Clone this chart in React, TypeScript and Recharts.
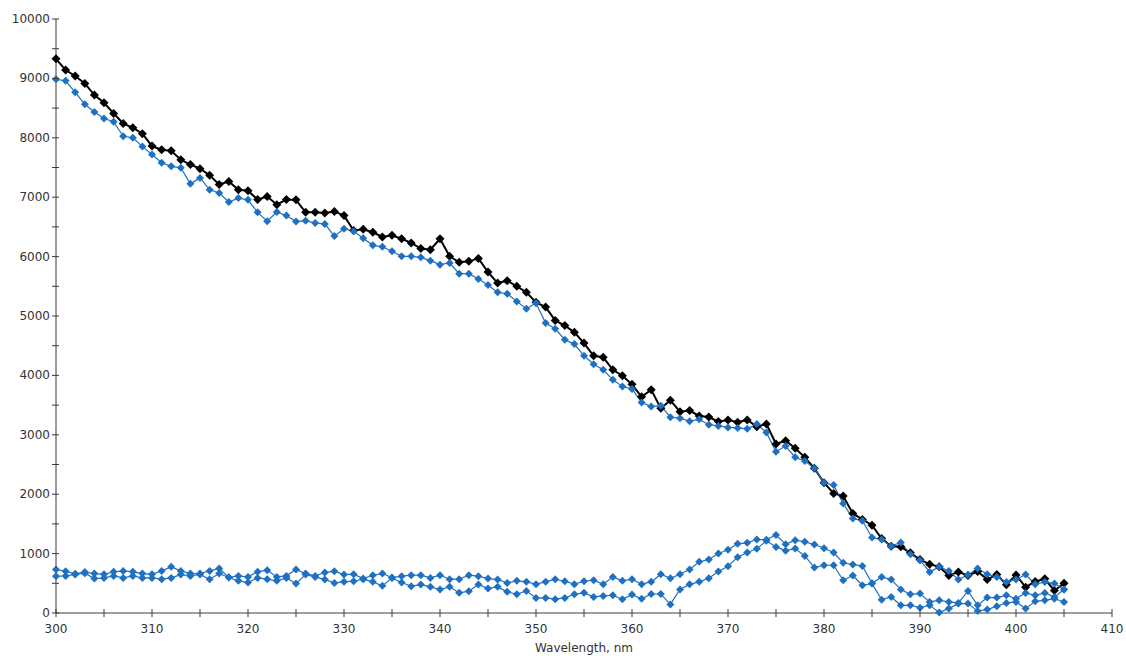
import { LineChart, Line, XAxis, YAxis } from 'recharts'

const wavelengths = [
  300, 301, 302, 303, 304, 305, 306, 307, 308, 309, 310, 311, 312, 313, 314, 315, 316, 317, 318, 319,
  320, 321, 322, 323, 324, 325, 326, 327, 328, 329, 330, 331, 332, 333, 334, 335, 336, 337, 338, 339,
  340, 341, 342, 343, 344, 345, 346, 347, 348, 349, 350, 351, 352, 353, 354, 355, 356, 357, 358, 359,
  360, 361, 362, 363, 364, 365, 366, 367, 368, 369, 370, 371, 372, 373, 374, 375, 376, 377, 378, 379,
  380, 381, 382, 383, 384, 385, 386, 387, 388, 389, 390, 391, 392, 393, 394, 395, 396, 397, 398, 399,
  400, 401, 402, 403, 404, 405,
]

// black trace
const sample = [
  9330, 9140, 9040, 8915, 8720, 8590, 8410, 8240, 8170, 8070, 7860, 7800, 7780, 7630, 7550, 7480, 7370, 7215, 7265, 7125,
  7110, 6960, 7010, 6875, 6960, 6955, 6745, 6745, 6735, 6760, 6690, 6440, 6460, 6410, 6330, 6360, 6300, 6230, 6135, 6115,
  6300, 6005, 5905, 5920, 5970, 5740, 5555, 5595, 5500, 5400, 5230, 5150, 4925, 4840, 4725, 4545, 4330, 4305, 4095, 3995,
  3850, 3640, 3760, 3445, 3580, 3390, 3408, 3318, 3300, 3222, 3250, 3210, 3250, 3137, 3182, 2845, 2901, 2772, 2620, 2435,
  2193, 2013, 1968, 1676, 1575, 1479, 1254, 1125, 1114, 1013, 900, 822, 777, 630, 692, 630, 700, 563, 650, 475,
  640, 435, 530, 575, 378, 500,
]

// blue traces
const reference = [
  8985, 8960, 8765, 8565, 8435, 8325, 8270, 8025, 8000, 7855, 7720, 7580, 7520, 7495, 7225, 7325, 7125, 7070, 6920, 6985,
  6955, 6745, 6595, 6750, 6690, 6590, 6605, 6565, 6550, 6345, 6470, 6425, 6310, 6190, 6165, 6089, 6005, 6005, 5988, 5932,
  5864, 5892, 5712, 5712, 5622, 5521, 5398, 5375, 5246, 5122, 5218, 4881, 4785, 4600, 4527, 4330, 4189, 4094, 3925, 3813,
  3773, 3545, 3475, 3490, 3296, 3279, 3230, 3260, 3170, 3150, 3125, 3115, 3100, 3180, 3040, 2716, 2811, 2620, 2558, 2435,
  2193, 2153, 1845, 1592, 1552, 1271, 1238, 1125, 1187, 990, 889, 692, 777, 709, 563, 640, 748, 653, 608, 523,
  563, 647, 484, 523, 495, 394,
]

const blankA = [
  732, 704, 660, 690, 664, 653, 693, 709, 693, 664, 653, 709, 777, 709, 664, 665, 709, 749, 600, 625,
  608, 693, 720, 608, 625, 732, 664, 625, 681, 704, 647, 653, 580, 636, 664, 597, 620, 636, 636, 591,
  636, 569, 569, 636, 620, 580, 563, 507, 541, 524, 485, 524, 569, 535, 485, 535, 552, 485, 608, 541,
  569, 485, 524, 653, 585, 653, 732, 861, 900, 1002, 1065, 1165, 1181, 1237, 1235, 1315, 1158, 1226, 1198, 1153,
  1090, 1018, 844, 816, 790, 500, 608, 563, 394, 315, 327, 186, 214, 186, 169, 372, 130, 259, 259, 298,
  242, 338, 298, 338, 270, 394,
]

const blankB = [
  620, 625, 650, 670, 580, 591, 625, 591, 625, 591, 591, 569, 591, 647, 625, 650, 569, 664, 597, 541,
  513, 591, 569, 541, 591, 496, 647, 608, 563, 507, 524, 535, 569, 524, 457, 591, 513, 451, 479, 440,
  395, 440, 339, 367, 479, 412, 440, 356, 316, 372, 254, 254, 232, 254, 316, 339, 271, 288, 299, 232,
  310, 240, 320, 320, 145, 395, 482, 524, 585, 698, 788, 940, 1018, 1080, 1215, 1113, 1050, 1085, 960, 765,
  804, 804, 551, 630, 467, 495, 225, 270, 130, 130, 90, 130, 10, 74, 158, 158, 34, 57, 113, 169,
  186, 74, 197, 214, 242, 186,
]

const xTicks = [300, 305, 310, 315, 320, 325, 330, 335, 340, 345, 350, 355, 360, 365, 370, 375, 380, 385, 390, 395, 400, 405, 410]
const yTicks = [0, 500, 1000, 1500, 2000, 2500, 3000, 3500, 4000, 4500, 5000, 5500, 6000, 6500, 7000, 7500, 8000, 8500, 9000, 9500, 10000]

const data = wavelengths.map((w, i) => ({
  w,
  sample: sample[i],
  reference: reference[i],
  blankA: blankA[i],
  blankB: blankB[i],
}))

const AXIS = '#3a3a3a'
const BLUE = '#1f70c1'
const FONT = '"DejaVu Sans", Verdana, sans-serif'

function diamond(color: string, r: number) {
  return (props: any) => {
    const { cx, cy, index } = props
    if (cx == null || cy == null) return <g key={index} />
    return (
      <path
        key={index}
        d={`M${cx},${cy - r}L${cx + r},${cy}L${cx},${cy + r}L${cx - r},${cy}Z`}
        fill={color}
      />
    )
  }
}

function XTick(props: any) {
  const { x, y, payload } = props
  const v = payload.value
  return (
    <g>
      <line x1={x} x2={x} y1={y - 4} y2={y + 4} stroke={AXIS} />
      {v % 10 === 0 && (
        <text x={x} y={y + 20} textAnchor="middle" fill="#333" fontSize={12} fontFamily={FONT}>
          {v}
        </text>
      )}
    </g>
  )
}

function YTick(props: any) {
  const { x, y, payload } = props
  const v = payload.value
  return (
    <g>
      <line x1={x - 4} x2={x + 3} y1={y} y2={y} stroke={AXIS} />
      {v % 1000 === 0 && (
        <text x={x - 6} y={y + 4} textAnchor="end" fill="#333" fontSize={12} fontFamily={FONT}>
          {v}
        </text>
      )}
    </g>
  )
}

export default function App() {
  return (
    <div style={{ position: 'absolute', left: 0, top: 0, width: 1126, height: 656, background: '#fff' }}>
      <LineChart
        width={1126}
        height={656}
        data={data}
        margin={{ top: 19, right: 14, bottom: 0, left: 0 }}
      >
        <XAxis
          dataKey="w"
          type="number"
          domain={[300, 410]}
          ticks={xTicks}
          interval={0}
          height={43}
          tickSize={0}
          tickMargin={0}
          tickLine={false}
          tick={<XTick />}
          stroke={AXIS}
          label={{
            value: 'Wavelength, nm',
            position: 'insideBottom',
            offset: 4,
            fill: '#333',
            fontSize: 12,
            fontFamily: FONT,
          }}
        />
        <YAxis
          type="number"
          domain={[0, 10000]}
          ticks={yTicks}
          interval={0}
          width={56}
          tickSize={0}
          tickMargin={0}
          tickLine={false}
          tick={<YTick />}
          stroke={AXIS}
        />
        <Line
          type="linear"
          dataKey="sample"
          stroke="#000"
          strokeWidth={2}
          dot={diamond('#000', 4.5)}
          activeDot={false}
          isAnimationActive={false}
        />
        <Line
          type="linear"
          dataKey="reference"
          stroke={BLUE}
          strokeWidth={1.2}
          dot={diamond(BLUE, 4)}
          activeDot={false}
          isAnimationActive={false}
        />
        <Line
          type="linear"
          dataKey="blankA"
          stroke={BLUE}
          strokeWidth={1.2}
          dot={diamond(BLUE, 4)}
          activeDot={false}
          isAnimationActive={false}
        />
        <Line
          type="linear"
          dataKey="blankB"
          stroke={BLUE}
          strokeWidth={1.2}
          dot={diamond(BLUE, 4)}
          activeDot={false}
          isAnimationActive={false}
        />
      </LineChart>
    </div>
  )
}
